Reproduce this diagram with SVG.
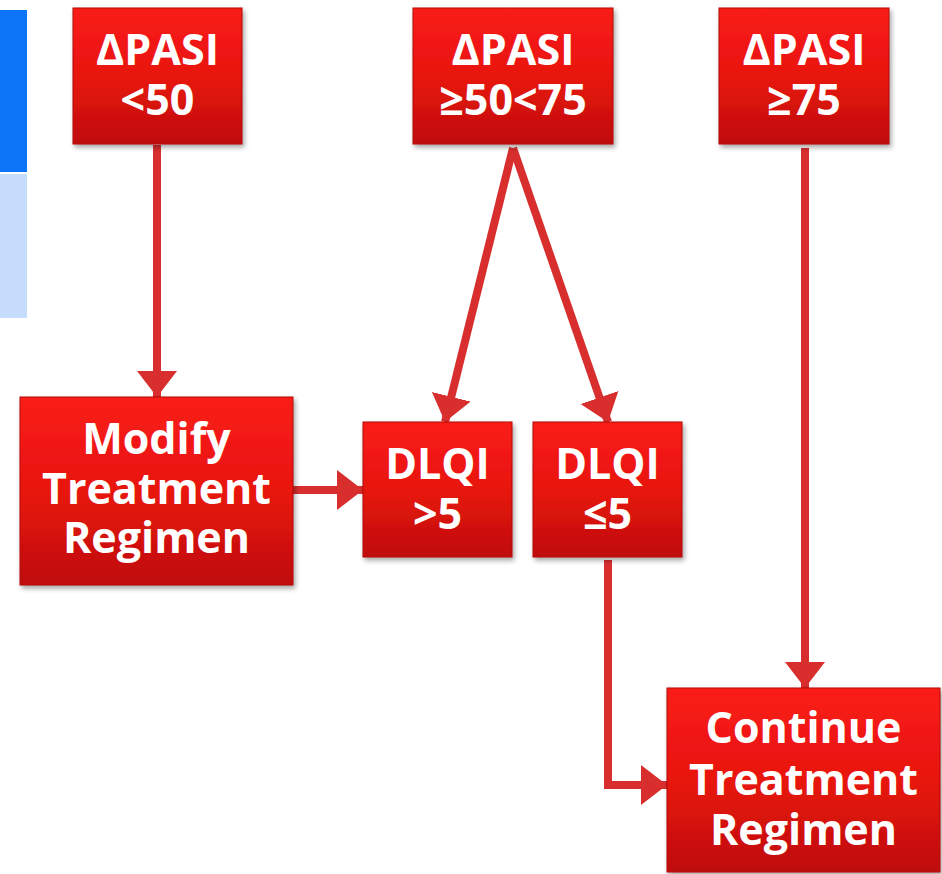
<svg xmlns="http://www.w3.org/2000/svg" width="942" height="874" viewBox="0 0 942 874">
<defs>
<linearGradient id="red" x1="0" y1="0" x2="0" y2="1">
<stop offset="0" stop-color="#fa1d16"/>
<stop offset="0.5" stop-color="#e81410"/>
<stop offset="1" stop-color="#bf0f0c"/>
</linearGradient>
<filter id="sh" x="-10%" y="-10%" width="125%" height="125%">
<feDropShadow dx="2" dy="3" stdDeviation="2.5" flood-color="#000" flood-opacity="0.35"/>
</filter>
<marker id="ah" markerUnits="userSpaceOnUse" markerWidth="44" markerHeight="44" viewBox="0 0 44 44" refX="26" refY="22" orient="auto">
<path d="M0,2 L26,22 L0,42 Z" fill="#d82e2e"/>
</marker>
<style>
.box{fill:url(#red);stroke:#b00c0a;stroke-width:1;filter:url(#sh)}
.t{font-family:"Open Sans","DejaVu Sans",sans-serif;font-weight:700;fill:#fff;text-anchor:middle;font-size:43px}
.c{fill:none;stroke:#d82e2e;stroke-width:8;marker-end:url(#ah)}
</style>
</defs>
<rect x="0" y="10" width="27" height="162" fill="#0c74f7"/>
<rect x="0" y="174" width="27" height="144" fill="#c5dcfb"/>
<g id="connectors">
<path class="c" d="M157,145 L157,397"/>
<path class="c" d="M293,490 L363,490"/>
<path class="c" d="M513,148 L445,422"/>
<path class="c" d="M513,148 L608,422"/>
<path class="c" d="M608,560 L608,785 L667,785"/>
<path class="c" d="M805,148 L805,688"/>
</g>
<g id="n1"><rect class="box" x="73" y="8" width="169" height="136"/><text class="t" x="157.5" y="65">ΔPASI</text><text class="t" x="157.5" y="115">&lt;50</text></g>
<g id="n2"><rect class="box" x="413" y="8" width="200" height="136"/><text class="t" x="513" y="65">ΔPASI</text><text class="t" x="513" y="115">≥50&lt;75</text></g>
<g id="n3"><rect class="box" x="719" y="8" width="170" height="136"/><text class="t" x="804" y="65">ΔPASI</text><text class="t" x="804" y="115">≥75</text></g>
<g id="n4"><rect class="box" x="20" y="397" width="273" height="188"/><text class="t" x="156.5" y="454">Modify</text><text class="t" x="156.5" y="504">Treatment</text><text class="t" x="156.5" y="553">Regimen</text></g>
<g id="n5"><rect class="box" x="363" y="422" width="149" height="135"/><text class="t" x="437.5" y="479">DLQI</text><text class="t" x="437.5" y="529">&gt;5</text></g>
<g id="n6"><rect class="box" x="533" y="422" width="149" height="135"/><text class="t" x="607.5" y="479">DLQI</text><text class="t" x="607.5" y="529">≤5</text></g>
<g id="n7"><rect class="box" x="667" y="688" width="273" height="184"/><text class="t" x="803.5" y="743">Continue</text><text class="t" x="803.5" y="795">Treatment</text><text class="t" x="803.5" y="845">Regimen</text></g>
</svg>
